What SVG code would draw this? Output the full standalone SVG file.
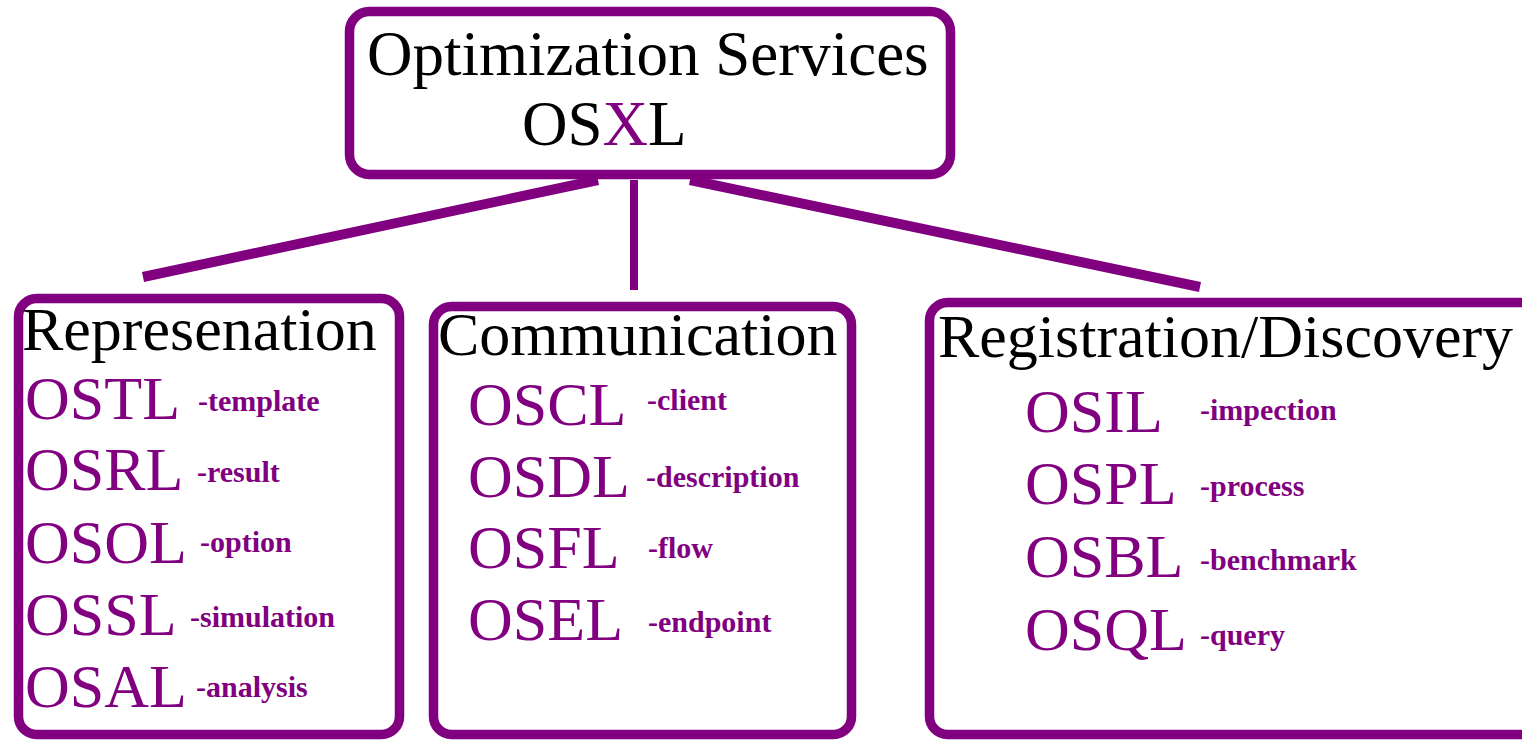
<svg xmlns="http://www.w3.org/2000/svg" width="1522" height="741" viewBox="0 0 1522 741">
<style>
.box{fill:#fff;stroke:#800080;stroke-width:9.500}
.conn{stroke:#800080;fill:none;stroke-linecap:butt}
.head{font-family:"Liberation Serif",serif;font-size:62px;fill:#000}
.top{font-size:63px}
.code{font-family:"Liberation Serif",serif;font-size:62px;fill:#800080}
.desc{font-family:"Liberation Serif",serif;font-size:30px;font-weight:bold;fill:#800080}
</style>
<rect width="1522" height="741" fill="#fff"/>
<g id="connectors">
<line class="conn" x1="143" y1="277" x2="598" y2="180" stroke-width="10"/>
<line class="conn" x1="634" y1="180" x2="634" y2="290" stroke-width="8"/>
<line class="conn" x1="690" y1="180" x2="1200" y2="287" stroke-width="10"/>
</g>
<g id="root">
<rect class="box" x="349.500" y="11.500" width="601" height="163" rx="20"/>
<text class="head top" x="367" y="75">Optimization Services</text>
<text class="head top" x="522" y="145">OS<tspan fill="#800080">X</tspan>L</text>
</g>
<g id="representation">
<rect class="box" x="18.500" y="298.500" width="381" height="436" rx="18"/>
<text class="head" x="22" y="350">Represenation</text>
<text class="code" x="25" y="419">OSTL</text>
<text class="desc" x="198" y="411">-template</text>
<text class="code" x="25" y="490">OSRL</text>
<text class="desc" x="197" y="482">-result</text>
<text class="code" x="25" y="563">OSOL</text>
<text class="desc" x="200" y="552">-option</text>
<text class="code" x="25" y="635">OSSL</text>
<text class="desc" x="190" y="627">-simulation</text>
<text class="code" x="25" y="707">OSAL</text>
<text class="desc" x="196" y="697">-analysis</text>
</g>
<g id="communication">
<rect class="box" x="433.500" y="306.500" width="418" height="428" rx="18"/>
<text class="head" x="438" y="355">Communication</text>
<text class="code" x="468" y="425">OSCL</text>
<text class="desc" x="647" y="410">-client</text>
<text class="code" x="468" y="497">OSDL</text>
<text class="desc" x="646" y="487">-description</text>
<text class="code" x="468" y="568">OSFL</text>
<text class="desc" x="648" y="558">-flow</text>
<text class="code" x="468" y="640">OSEL</text>
<text class="desc" x="648" y="632">-endpoint</text>
</g>
<g id="registration">
<rect class="box" x="929.500" y="302.500" width="610" height="432" rx="18"/>
<text class="head" x="938" y="357">Registration/Discovery</text>
<text class="code" x="1025" y="432">OSIL</text>
<text class="desc" x="1200" y="420">-impection</text>
<text class="code" x="1025" y="504">OSPL</text>
<text class="desc" x="1200" y="496">-process</text>
<text class="code" x="1025" y="577">OSBL</text>
<text class="desc" x="1200" y="570">-benchmark</text>
<text class="code" x="1025" y="650">OSQL</text>
<text class="desc" x="1200" y="645">-query</text>
</g>
</svg>
